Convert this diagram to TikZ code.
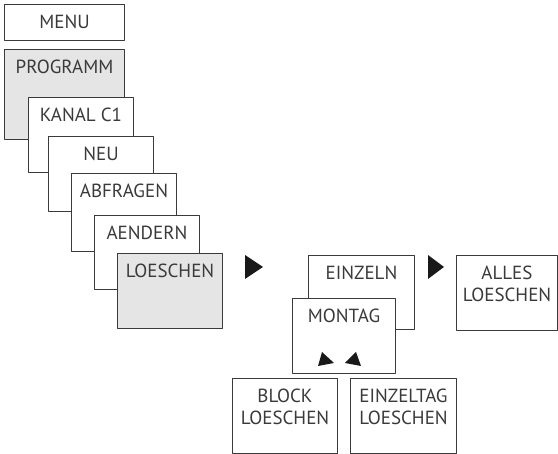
\documentclass[tikz,border=0pt]{standalone}
\usepackage{fontspec}
\setmainfont{PT Sans}
\usetikzlibrary{positioning}

\definecolor{frame}{HTML}{3A3A3A}
\definecolor{shade}{HTML}{E5E5E6}

\begin{document}
\begin{tikzpicture}[x=1pt,y=-1pt,line join=round,
  font=\fontsize{19}{22}\selectfont,
  menubox/.style={draw=frame,line width=1pt,fill=white,anchor=north west,
    minimum width=105pt,minimum height=75pt,inner sep=0pt},
  caption/.style={label={[anchor=north,inner sep=0pt,yshift=-10.5pt,
    align=center,text=frame]north:#1}},
  picked/.style={fill=shade},
  pointer/.style={fill=black!90}]
\useasboundingbox (0,0) rectangle (558,454);

% main menu cascade
\node[menubox,minimum width=120pt,minimum height=36pt,caption=MENU] (menu) at (4,4) {};
\node[menubox,picked,minimum width=120pt,minimum height=90pt,caption=PROGRAMM] (prog) at (4,49) {};
\node[menubox,caption=KANAL C1] (kanal) at (28,97) {};
\node[menubox,caption=NEU] (neu) at (48,136) {};
\node[menubox,minimum height=78pt,caption=ABFRAGEN] (abfr) at (71,173) {};
\node[menubox,minimum height=74pt,caption=AENDERN] (aend) at (94,215) {};
\node[menubox,picked,caption=LOESCHEN] (loesch) at (117,253) {};

% delete submenu
\node[menubox,minimum width=106pt,minimum height=74pt,caption=EINZELN] (einz) at (308,255) {};
\node[menubox,minimum width=103pt,caption=MONTAG] (mon) at (292,298) {};
\node[menubox,minimum width=101pt,caption={ALLES\\LOESCHEN}] (alles) at (456,255) {};
\node[menubox,caption={BLOCK\\LOESCHEN}] (block) at (232,378) {};
\node[menubox,minimum width=106pt,caption={EINZELTAG\\LOESCHEN}] (eintag) at (350,378) {};

% arrow keys
\fill[pointer] (245,255) -- (263,267) -- (245,279) -- cycle;
\fill[pointer] (428,255) -- (444,267) -- (428,279) -- cycle;
\fill[pointer] (322,352) -- (334,363) -- (318,366) -- cycle;
\fill[pointer] (356,352) -- (345,363) -- (361,366) -- cycle;
\end{tikzpicture}
\end{document}
